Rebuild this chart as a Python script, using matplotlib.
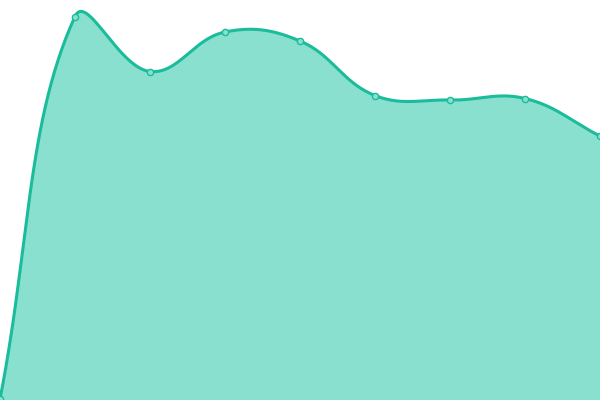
import numpy as np
import matplotlib
matplotlib.use('Agg')
import matplotlib.pyplot as plt

# data (y in chart units, 0 at the bottom)
labels = ['A', 'B', 'C', 'D', 'E', 'F', 'G', 'H', 'I']
values = [1, 383.5, 328.5, 368, 359, 304.5, 300, 301.5, 264]

line_col = '#1abc9c'
fill_col = '#89e0cf'

fig = plt.figure(figsize=(6, 4), dpi=100)
ax = fig.add_axes([0, 0, 1, 1])
ax.set_xlim(0, 600)
ax.set_ylim(0, 400)
ax.axis('off')

xs = np.arange(len(values)) * 75.0
ys = np.array(values, dtype=float)

# chart.js style bezier with tension 0.4
t = 0.4
n = len(xs)
cp_prev = np.zeros((n, 2))
cp_next = np.zeros((n, 2))
for i in range(n):
    p0 = np.array([xs[max(i - 1, 0)], ys[max(i - 1, 0)]])
    p1 = np.array([xs[i], ys[i]])
    p2 = np.array([xs[min(i + 1, n - 1)], ys[min(i + 1, n - 1)]])
    d01 = np.hypot(*(p1 - p0))
    d12 = np.hypot(*(p2 - p1))
    tot = d01 + d12
    s01 = d01 / tot if tot else 0
    s12 = d12 / tot if tot else 0
    cp_prev[i] = p1 - t * s01 * (p2 - p0)
    cp_next[i] = p1 + t * s12 * (p2 - p0)

cx, cy = [], []
u = np.linspace(0, 1, 60)
for i in range(n - 1):
    P0 = np.array([xs[i], ys[i]])
    P1 = cp_next[i]
    P2 = cp_prev[i + 1]
    P3 = np.array([xs[i + 1], ys[i + 1]])
    seg = ((1 - u) ** 3)[:, None] * P0 + (3 * (1 - u) ** 2 * u)[:, None] * P1 \
        + (3 * (1 - u) * u ** 2)[:, None] * P2 + (u ** 3)[:, None] * P3
    cx.extend(seg[:, 0])
    cy.extend(seg[:, 1])

ax.fill_between(cx, cy, 0, color=fill_col, linewidth=0)
ax.plot(cx, cy, color=line_col, lw=2.2, solid_capstyle='round')
ax.plot(xs, ys, 'o', ms=4.5, mfc=fill_col, mec=line_col, mew=1, clip_on=False)

fig.savefig('out.png', dpi=100)
